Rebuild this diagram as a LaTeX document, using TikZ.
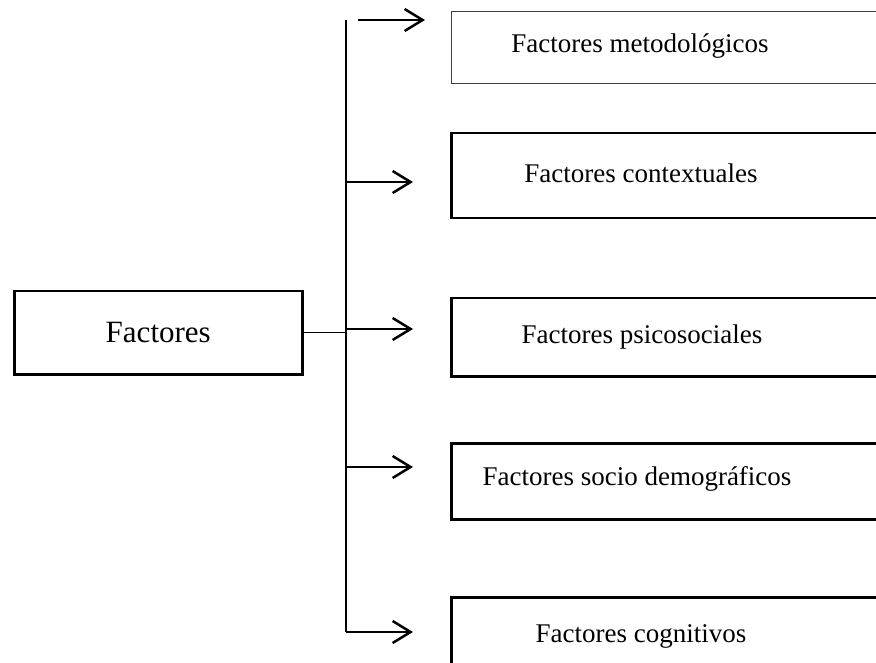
\documentclass[tikz,border=0pt]{standalone}
\usepackage{fontspec}
\setmainfont{Liberation Serif}
\usetikzlibrary{arrows.meta}

\begin{document}
\begin{tikzpicture}[x=1pt,y=-1pt,
  box/.style={draw, line width=2.5pt, anchor=north west, inner sep=0pt},
  lbl/.style={font=\fontsize{27}{32}\selectfont},
  conn/.style={-{Straight Barb[length=18pt, width=22pt, line width=2.5pt]}, line width=2.5pt}]
\useasboundingbox (0,0) rectangle (876,663);
% main box
\node [box, minimum width=288, minimum height=83, font=\fontsize{31}{36}\selectfont] (fac) at (13,290) {Factores};
% right boxes
\node [box, line width=1.2pt, draw=black!75, minimum width=460, minimum height=72] (b1) at (451,11) {};
\node [box, minimum width=460, minimum height=85] (b2) at (450,132) {};
\node [box, minimum width=460, minimum height=78] (b3) at (450,297) {};
\node [box, minimum width=460, minimum height=76] (b4) at (450,442) {};
\node [box, minimum width=460, minimum height=100] (b5) at (450,596) {};
\node [lbl] (t1) at (640,46) {Factores metodológicos};
\node [lbl] (t2) at (641,173) {Factores contextuales};
\node [lbl] (t3) at (642,337) {Factores psicosociales};
\node [lbl] (t4) at (637,479) {Factores socio demográficos};
\node [lbl] (t5) at (641,636) {Factores cognitivos};
% bracket
\coordinate (top) at (346,20);
\coordinate (bot) at (346,632);
\draw [line width=1.8pt] (top) -- (bot);
\draw [line width=1pt] (fac.east) -- (fac.east -| top);
% arrows
\coordinate (e1) at (425,20);
\coordinate (e2) at (413,182);
\coordinate (e3) at (413,329);
\coordinate (e4) at (413,467);
\coordinate (e5) at (413,632);
\draw [conn] (358,20) -- (e1);
\draw [conn] (e2 -| top) -- (e2);
\draw [conn] (e3 -| top) -- (e3);
\draw [conn] (e4 -| top) -- (e4);
\draw [conn] (bot) -- (e5);
\end{tikzpicture}
\end{document}
